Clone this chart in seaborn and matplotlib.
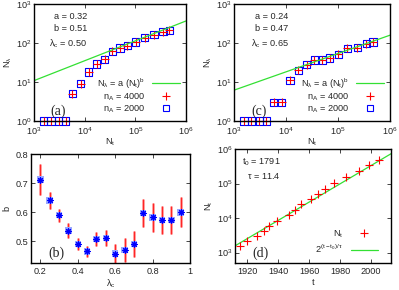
import numpy as np
import pandas as pd
import seaborn as sns
import matplotlib
matplotlib.use("Agg")
import matplotlib.pyplot as plt
from matplotlib.lines import Line2D

# total number of papers N_t, shared by panels (a), (c), (d)
years = [1915, 1920, 1926, 1931, 1934, 1939, 1947, 1951, 1955, 1961,
         1966, 1970, 1976, 1984, 1992, 1999, 2005]
n_total = [1550, 2150, 3050, 4200, 5750, 8300, 12000, 17200, 24800, 35000,
           50100, 69500, 101000, 152000, 234000, 350000, 468000]

# panel (a): lambda_c = 0.50
na_a_4000 = [1, 1, 1, 1, 5, 9, 18, 29, 40, 61, 75, 85, 107, 138, 163, 196, 212]
na_a_2000 = [1, 1, 1, 1, 5, 9, 18, 29, 38, 61, 75, 86, 107, 138, 164, 196, 212]
fit_a = (0.32, 0.51)

# panel (c): lambda_c = 0.65
na_c_4000 = [1, 1, 1, 1, 3, 3, 11, 20, 28, 37, 37, 41, 51, 73, 76, 97, 106]
na_c_2000 = [1, 1, 1, 1, 3, 3, 11, 20, 28, 37, 37, 41, 51, 73, 76, 97, 106]
fit_c = (0.24, 0.47)

# panel (b): exponent b vs lambda_c
lam_c = [0.2, 0.25, 0.3, 0.35, 0.4, 0.45, 0.5, 0.55, 0.6, 0.65, 0.7, 0.75,
         0.8, 0.85, 0.9, 0.95]
b_val = [0.712, 0.641, 0.590, 0.537, 0.491, 0.466, 0.509, 0.511, 0.458,
         0.471, 0.491, 0.597, 0.583, 0.574, 0.574, 0.600]
b_err = [0.053, 0.030, 0.022, 0.025, 0.022, 0.019, 0.025, 0.027, 0.033,
         0.040, 0.045, 0.047, 0.049, 0.049, 0.049, 0.052]

# panel (d): exponential growth fit
t0 = 1791
tau = 11.4

RED = "#ff0000"
BLUE = "#0000ff"
GREEN = "#33e033"
FS = 6.6

sns.set_style("ticks")
plt.rcParams["font.family"] = ["Liberation Sans", "DejaVu Sans"]
plt.rcParams["font.size"] = FS
plt.rcParams["mathtext.fontset"] = "custom"
plt.rcParams["mathtext.rm"] = "Liberation Sans"
plt.rcParams["mathtext.it"] = "Liberation Sans"
plt.rcParams["axes.linewidth"] = 1.0
plt.rcParams["axes.edgecolor"] = "black"

fig = plt.figure(figsize=(3.99, 2.90), dpi=100)
W, H = 399.0, 290.0


def add_ax(left, right, top, bottom):
    return fig.add_axes([left / W, 1 - bottom / H, (right - left) / W, (bottom - top) / H])


def style(ax):
    ax.tick_params(direction="in", top=True, right=True, length=3, width=0.6,
                   labelsize=FS, which="major")
    ax.tick_params(axis="x", pad=3)
    ax.tick_params(axis="y", pad=2)
    ax.tick_params(which="minor", length=0)
    for s in ax.spines.values():
        s.set_visible(True)


def power_panel(ax, y4000, y2000, fit, lam_txt, tag):
    a, b = fit
    xs = np.logspace(3, 6, 50)
    line_df = pd.DataFrame({"x": xs, "y": a * xs ** b})
    sns.lineplot(data=line_df, x="x", y="y", color=GREEN, lw=0.9, ax=ax)
    df = pd.DataFrame({"nt": n_total, "n4": y4000, "n2": y2000})
    sns.scatterplot(data=df, x="nt", y="n2", marker="s", s=28, facecolor="none",
                    edgecolor=BLUE, linewidth=0.8, ax=ax, clip_on=False)
    sns.scatterplot(data=df, x="nt", y="n4", marker="+", s=30, color=RED,
                    linewidth=0.8, ax=ax, clip_on=False)
    ax.set_xscale("log")
    ax.set_yscale("log")
    ax.set_xlim(1e3, 1e6)
    ax.set_ylim(1, 1e3)
    ax.set_xticks([1e3, 1e4, 1e5, 1e6])
    ax.set_yticks([1, 1e1, 1e2, 1e3])
    style(ax)
    ax.set_xlabel(r"N$_{\rm t}$", labelpad=0)
    ax.set_ylabel(r"N$_\lambda$", labelpad=1)
    txt = "a = %.2f\nb = %.2f\n" % (a, b) + r"$\lambda_{\rm c}$ = " + lam_txt
    ax.text(0.35, 0.93, txt, transform=ax.transAxes, ha="right", va="top",
            fontsize=FS, linespacing=1.45)
    ax.text(0.11, 0.05, tag, transform=ax.transAxes, fontsize=10,
            family=["Liberation Serif", "DejaVu Serif"])
    handles = [Line2D([], [], color=GREEN, lw=0.9),
               Line2D([], [], color=RED, marker="+", ls="none", ms=5.5, mew=0.8),
               Line2D([], [], color=BLUE, marker="s", mfc="none", ls="none", ms=4.5, mew=0.8)]
    labels = [r"N$_\lambda$ = a (N$_{\rm t}$)$^{\rm b}$", r"n$_{\rm A}$ = 4000",
              r"n$_{\rm A}$ = 2000"]
    ax.legend(handles, labels, loc="lower right", bbox_to_anchor=(1.0, 0.0),
              frameon=False, markerfirst=False, handlelength=3.0,
              fontsize=FS, labelspacing=0.05, handletextpad=0.8, borderaxespad=0.3)


ax_a = add_ax(34, 186, 4, 121)
power_panel(ax_a, na_a_4000, na_a_2000, fit_a, "0.50", "(a)")

ax_c = add_ax(234, 390, 4, 121)
power_panel(ax_c, na_c_4000, na_c_2000, fit_c, "0.65", "(c)")

# panel (b)
ax_b = add_ax(31, 190, 154, 263)
ax_b.errorbar(lam_c, b_val, yerr=b_err, fmt="none", ecolor="#ff8080",
              elinewidth=1.8, capsize=0)
ax_b.errorbar(lam_c, b_val, yerr=b_err, fmt="none", ecolor=RED,
              elinewidth=0.5, capsize=0)
df_b = pd.DataFrame({"lam": lam_c, "b": b_val})
sns.scatterplot(data=df_b, x="lam", y="b", marker="s", s=22, color="#9aa8ff",
                edgecolor="none", ax=ax_b, zorder=3)
sns.scatterplot(data=df_b, x="lam", y="b", marker=(8, 2, 0), s=18,
                color=BLUE, linewidth=0.8, ax=ax_b, zorder=4)
ax_b.set_xlim(0.15, 1.0)
ax_b.set_ylim(0.426, 0.8)
ax_b.set_xticks([0.2, 0.4, 0.6, 0.8, 1.0])
ax_b.set_xticklabels(["0.2", "0.4", "0.6", "0.8", "1"])
ax_b.set_yticks([0.5, 0.6, 0.7, 0.8])
style(ax_b)
ax_b.set_xlabel(r"$\lambda_{\rm c}$", labelpad=1)
ax_b.set_ylabel("b", labelpad=3)
ax_b.text(0.11, 0.06, "(b)", transform=ax_b.transAxes, fontsize=10,
          family=["Liberation Serif", "DejaVu Serif"])

# panel (d)
ax_d = add_ax(235, 391, 149, 263)
tt = np.linspace(1900, 2020, 60)
df_line = pd.DataFrame({"t": tt, "n": 2.0 ** ((tt - t0) / tau)})
sns.lineplot(data=df_line, x="t", y="n", color=GREEN, lw=0.9, ax=ax_d)
df_d = pd.DataFrame({"t": years, "n": n_total})
sns.scatterplot(data=df_d, x="t", y="n", marker="+", s=30, color=RED,
                linewidth=0.8, ax=ax_d, zorder=3)
ax_d.set_yscale("log")
ax_d.set_xlim(1912, 2013)
ax_d.set_ylim(500, 1e6)
ax_d.set_xticks([1920, 1940, 1960, 1980, 2000])
ax_d.set_yticks([1e3, 1e4, 1e5, 1e6])
style(ax_d)
ax_d.set_xlabel("t", labelpad=1)
ax_d.set_ylabel(r"N$_{\rm t}$", labelpad=1)
ax_d.text(0.29, 0.93, "t$_0$ = %d\n" % t0 + r"$\tau$ = %.1f" % tau,
          transform=ax_d.transAxes, ha="right", va="top", fontsize=FS, linespacing=1.35)
ax_d.text(0.11, 0.05, "(d)", transform=ax_d.transAxes, fontsize=10,
          family=["Liberation Serif", "DejaVu Serif"])
handles_d = [Line2D([], [], color=RED, marker="+", ls="none", ms=5.5, mew=0.8),
             Line2D([], [], color=GREEN, lw=0.9)]
labels_d = [r"N$_{\rm t}$", r"2$^{\rm (t-t_0)/\tau}$"]
ax_d.legend(handles_d, labels_d, loc="lower right", bbox_to_anchor=(0.97, 0.0),
            frameon=False, markerfirst=False, handlelength=3.0, fontsize=FS,
            labelspacing=0.3, handletextpad=0.8)

fig.savefig("out.png", dpi=100)
